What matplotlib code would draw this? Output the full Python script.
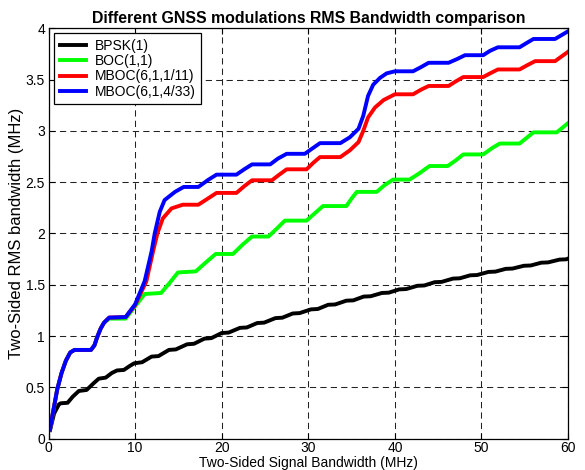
import matplotlib
matplotlib.use("Agg")
import matplotlib.pyplot as plt

plt.rcParams['font.family'] = ['Liberation Sans', 'DejaVu Sans']

# values (MHz)
bpsk_x = [0.17, 0.64, 1.2, 1.4, 2.2, 2.8, 3.5, 4.4, 5.2, 5.8, 6.6, 7.3, 7.9, 8.7, 9.4, 9.9, 10.8,
          11.9, 12.7, 13.9, 14.7, 16.0, 16.8, 18.0, 18.8, 20.0, 20.8, 22.1, 22.9, 24.1, 24.9,
          26.2, 27.0, 28.2, 29.0, 30.3, 31.1, 32.3, 33.1, 34.4, 35.2, 36.4, 37.2, 38.5, 39.3,
          40.5, 41.3, 42.6, 43.4, 44.6, 45.4, 46.7, 47.5, 48.7, 49.5, 50.8, 51.6, 52.8, 53.6,
          54.9, 55.7, 56.9, 57.7, 59.0, 59.8, 60.0]
bpsk_y = [0.084, 0.245, 0.335, 0.345, 0.35, 0.41, 0.465, 0.475, 0.54, 0.585, 0.595, 0.64, 0.665, 0.67,
          0.71, 0.735, 0.745, 0.80, 0.805, 0.865, 0.87, 0.92, 0.925, 0.975, 0.98, 1.03, 1.034,
          1.08, 1.084, 1.127, 1.131, 1.175, 1.179, 1.22, 1.224, 1.26, 1.264, 1.305, 1.308,
          1.345, 1.348, 1.385, 1.388, 1.42, 1.423, 1.455, 1.458, 1.49, 1.493, 1.525, 1.528,
          1.56, 1.563, 1.592, 1.595, 1.625, 1.628, 1.655, 1.658, 1.685, 1.688, 1.715, 1.718,
          1.745, 1.748, 1.755]

boc_x = [0.17, 0.5, 1.0, 1.5, 2.0, 2.5, 3.0, 4.9, 5.3, 5.6, 6.0, 6.4, 7.0, 8.9,
         10.0, 11.1, 13.0, 14.0, 14.95, 17.0, 18.2, 19.3, 21.3, 22.4, 23.5, 25.4,
         26.4, 27.3, 29.8, 30.8, 31.7, 34.4, 35.0, 35.6, 37.9, 38.8, 39.8, 41.7,
         42.9, 44.0, 46.1, 47.0, 47.9, 50.2, 51.2, 52.1, 54.4, 55.2, 56.0, 58.7, 60.0]
boc_y = [0.09, 0.25, 0.48, 0.64, 0.76, 0.84, 0.865, 0.865, 0.91, 0.986, 1.07, 1.13, 1.17, 1.17,
         1.29, 1.41, 1.42, 1.52, 1.62, 1.63, 1.72, 1.80, 1.80, 1.89, 1.97, 1.97,
         2.05, 2.125, 2.125, 2.20, 2.267, 2.267, 2.34, 2.405, 2.405, 2.47, 2.525, 2.525,
         2.59, 2.657, 2.657, 2.71, 2.77, 2.77, 2.83, 2.876, 2.876, 2.93, 2.985, 2.985, 3.075]

mboc11_x = [0.17, 0.5, 1.0, 1.5, 2.0, 2.5, 3.0, 4.9, 5.3, 5.6, 6.0, 6.4, 7.0, 8.9,
            10.0, 11.3, 12.07, 12.57, 13.2, 14.2, 15.5, 17.3, 18.4, 19.4, 21.7,
            22.6, 23.5, 25.8, 26.6, 27.5, 29.8, 30.6, 31.35, 33.7, 34.8, 35.8, 36.35,
            36.9, 37.7, 38.7, 40.0, 42.1, 43.0, 43.9, 46.2, 47.0, 47.9, 50.2,
            51.0, 51.9, 54.4, 55.3, 56.2, 58.5, 60.0]
mboc11_y = [0.09, 0.25, 0.48, 0.64, 0.76, 0.84, 0.865, 0.865, 0.91, 0.986, 1.07, 1.13, 1.18, 1.185,
            1.30, 1.535, 1.825, 2.0, 2.147, 2.244, 2.28, 2.28, 2.34, 2.395, 2.395,
            2.46, 2.518, 2.518, 2.57, 2.625, 2.625, 2.69, 2.744, 2.744, 2.81, 2.89, 3.0,
            3.13, 3.227, 3.30, 3.356, 3.356, 3.40, 3.437, 3.437, 3.48, 3.524, 3.524,
            3.56, 3.598, 3.598, 3.64, 3.679, 3.679, 3.77]

mboc433_x = [0.17, 0.5, 1.0, 1.5, 2.0, 2.5, 3.0, 4.9, 5.3, 5.6, 6.0, 6.4, 7.0, 8.9,
             10.0, 11.1, 11.9, 12.26, 12.84, 13.4, 14.6, 15.6, 17.3, 18.4, 19.4, 21.7,
             22.6, 23.5, 25.6, 26.5, 27.5, 29.6, 30.5, 31.35, 33.7, 34.8, 35.8, 36.35,
             36.9, 37.5, 38.3, 39.05, 40.0, 42.1, 43.0, 43.9, 46.2, 47.2, 48.1, 50.2,
             51.0, 51.9, 54.4, 55.2, 56.0, 58.5, 60.0]
mboc433_y = [0.09, 0.25, 0.48, 0.64, 0.76, 0.84, 0.865, 0.865, 0.91, 0.986, 1.07, 1.13, 1.18, 1.185,
             1.31, 1.535, 1.825, 2.0, 2.21, 2.325, 2.405, 2.453, 2.453, 2.52, 2.573, 2.573,
             2.625, 2.673, 2.673, 2.73, 2.776, 2.776, 2.83, 2.88, 2.88, 2.937, 3.02, 3.147,
             3.34, 3.45, 3.517, 3.56, 3.58, 3.58, 3.62, 3.663, 3.663, 3.70, 3.737, 3.737,
             3.78, 3.814, 3.814, 3.855, 3.895, 3.895, 3.97]

labels = ['BPSK(1)', 'BOC(1,1)', 'MBOC(6,1,1/11)', 'MBOC(6,1,4/33)']
colors = ['black', '#00ff00', '#ff0000', '#0000ff']
xticks = [0, 10, 20, 30, 40, 50, 60]
yticks = [0, 0.5, 1, 1.5, 2, 2.5, 3, 3.5, 4]
ytick_labels = ['0', '0.5', '1', '1.5', '2', '2.5', '3', '3.5', '4']

fig = plt.figure(figsize=(5.85, 4.70), dpi=100)
ax = fig.add_axes([0.083, 0.0666, 0.888, 0.8734])

series = [(bpsk_x, bpsk_y), (boc_x, boc_y), (mboc11_x, mboc11_y), (mboc433_x, mboc433_y)]
for (xs, ys), lab, col in zip(series, labels, colors):
    ax.plot(xs, ys, color=col, linewidth=2.8, label=lab, solid_joinstyle='round')

ax.set_xlim(0, 60)
ax.set_ylim(0, 4)
ax.set_xticks(xticks)
ax.set_yticks(yticks)
ax.set_yticklabels(ytick_labels)
ax.tick_params(direction='in', length=4, width=0.8, labelsize=10, top=True, right=True)
ax.tick_params(axis='y', pad=2.5)
ax.tick_params(axis='x', pad=2)
ax.grid(True, color='#222222', linestyle=(0, (6, 4)), linewidth=0.75)
for sp in ax.spines.values():
    sp.set_linewidth(0.9)
    sp.set_color('black')

ax.set_title('Different GNSS modulations RMS Bandwidth comparison',
             fontsize=11.4, fontweight='bold', pad=4)
# x label sits tight under the tick labels, as in the original
fig.text(0.5 * (0.083 + 0.971), 1 - 467 / 470, 'Two-Sided Signal Bandwidth (MHz)',
         fontsize=10, ha='center', va='baseline')
ax.set_ylabel('Two-Sided RMS bandwidth (MHz)', fontsize=12)
ax.yaxis.set_label_coords(-0.047, 0.5)

leg = ax.legend(loc='upper left', bbox_to_anchor=(0.0106, 0.988), borderaxespad=0,
                fontsize=10, fancybox=False, framealpha=1, edgecolor='black',
                handlelength=1.9, handletextpad=0.65, labelspacing=0.1, borderpad=0.4)
leg.get_frame().set_linewidth(0.9)

fig.savefig('out.png', dpi=100)
